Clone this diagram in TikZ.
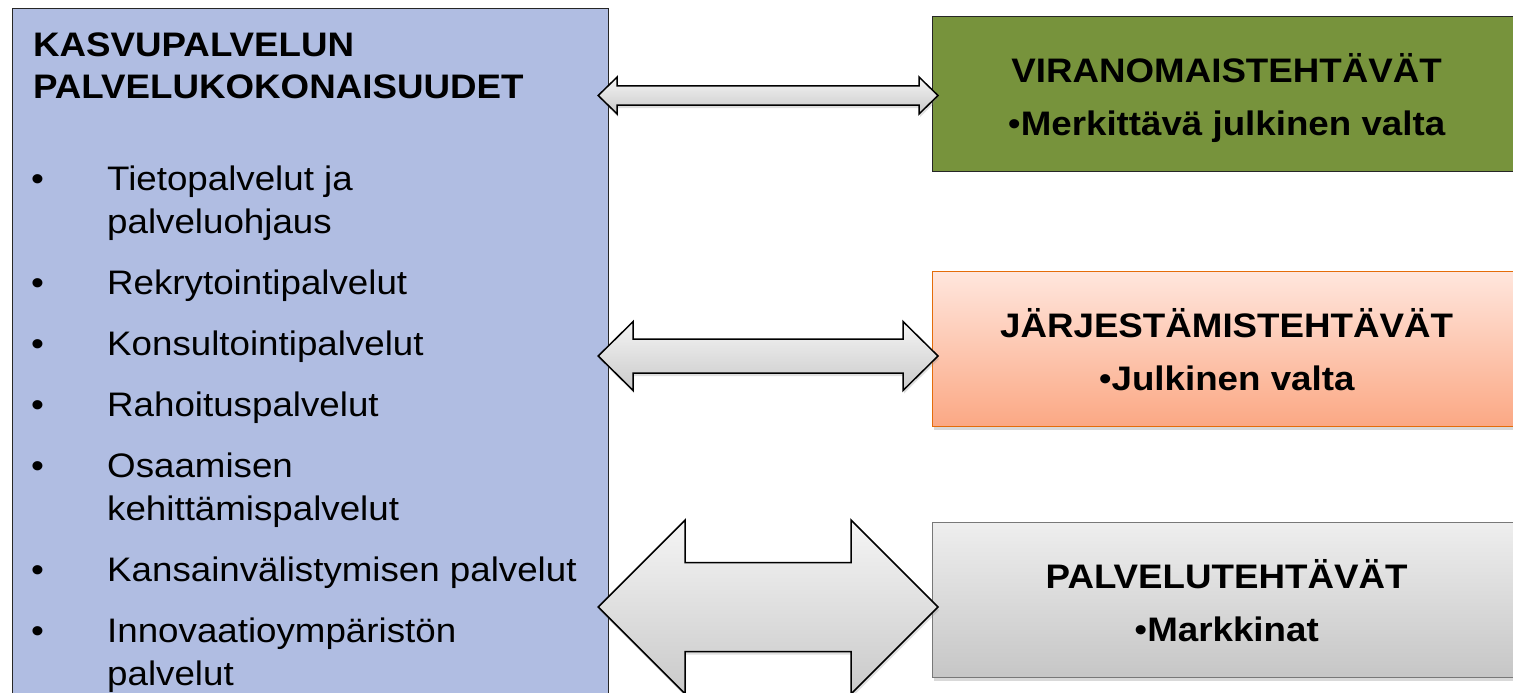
\documentclass[tikz,border=0pt]{standalone}
\usepackage{fontspec}
\setmainfont{Liberation Sans}[FakeStretch=1.08]
\usetikzlibrary{calc,shadows}

\definecolor{servblue}{RGB}{176,189,226}
\definecolor{viragreen}{RGB}{119,147,60}
\definecolor{jarjtop}{RGB}{255,230,221}
\definecolor{jarjbot}{RGB}{251,168,132}
\definecolor{jarjline}{RGB}{228,108,10}
\definecolor{paltop}{RGB}{238,238,238}
\definecolor{palbot}{RGB}{198,198,198}
\definecolor{palline}{RGB}{120,120,120}

\newcommand{\slidefont}{\fontsize{34}{43}\selectfont}

\tikzset{
  servicebox/.style={
    draw=black!85, line width=1.2pt, fill=servblue,
    minimum width=596pt, minimum height=720pt, anchor=north west
  },
  taskbox/.style={
    draw, line width=1.2pt,
    minimum width=588pt, minimum height=155pt, anchor=north west
  },
  virabox/.style={taskbox, draw=black!85, fill=viragreen},
  jarjbox/.style={taskbox, draw=jarjline, top color=jarjtop, bottom color=jarjbot,
    drop shadow={shadow xshift=1pt, shadow yshift=-3pt, opacity=0.3}},
  palbox/.style={taskbox, draw=palline, top color=paltop, bottom color=palbot,
    drop shadow={shadow xshift=1pt, shadow yshift=-3pt, opacity=0.3}},
  tasktext/.style={font=\slidefont\bfseries, anchor=base, inner sep=0pt},
  headtext/.style={font=\slidefont\bfseries, anchor=base west, inner sep=0pt},
  itemtext/.style={font=\slidefont, anchor=base west, inner sep=0pt},
  fatarrow/.style={
    draw=black, line width=1.5pt, line join=miter,
    top color=gray!8, bottom color=gray!42,
    drop shadow={shadow xshift=1pt, shadow yshift=-3pt, opacity=0.25}
  }
}

% double arrow: #1 left tip, #2 right tip, #3 head length, #4 head half width, #5 shaft half width
\newcommand{\twowayarrow}[5]{%
  \path[fatarrow] (#1) -- ++(#3,-#4) -- ++(0,#4-#5) -- ($(#2)+(-#3,-#5)$)
    -- ++(0,#5-#4) -- (#2) -- ++(-#3,#4) -- ++(0,#5-#4)
    -- ($(#1)+(#3,#5)$) -- ++(0,#4-#5) -- cycle;
}

\begin{document}
\begin{tikzpicture}[x=1pt,y=-1pt]
\useasboundingbox (0,0) rectangle (1513,693);

% service areas
\node[servicebox] (lbox) at (12,8) {};
\node[headtext] (head1) at (33,57) {KASVUPALVELUN};
\node[headtext] (head2) at (33,99) {PALVELUKOKONAISUUDET};

\foreach \y/\txt/\b in {190/{Tietopalvelut ja}/1, 233/palveluohjaus/0,
    294/Rekrytointipalvelut/1, 355/Konsultointipalvelut/1,
    416/Rahoituspalvelut/1, 477/Osaamisen/1, 520/kehittämispalvelut/0,
    581/{Kansainvälistymisen palvelut}/1, 642/Innovaatioympäristön/1,
    685/palvelut/0}{
  \node[itemtext] (item\y) at (107,\y) {\txt};
  \ifnum\b=1 \node[itemtext] (dot\y) at (31,\y) {•}; \fi
}

% tasks
\node[virabox] (vira) at (932,16) {};
\node[jarjbox] (jarj) at (932,271) {};
\node[palbox] (pal) at (932,522) {};

\node[tasktext] (vira1) at ([yshift=12pt]vira.center) {VIRANOMAISTEHTÄVÄT};
\node[tasktext] (vira2) at ([yshift=-41pt]vira.center) {\textmd{•}Merkittävä julkinen valta};
\node[tasktext] (jarj1) at ([yshift=12pt]jarj.center) {JÄRJESTÄMISTEHTÄVÄT};
\node[tasktext] (jarj2) at ([yshift=-41pt]jarj.center) {\textmd{•}Julkinen valta};
\node[tasktext] (pal1) at ([yshift=12pt]pal.center) {PALVELUTEHTÄVÄT};
\node[tasktext] (pal2) at ([yshift=-41pt]pal.center) {\textmd{•}Markkinat};

% arrows
\coordinate (a1l) at ($(lbox.east |- 0,95.5)+(-11,0)$);
\coordinate (a1r) at ($(vira.west |- 0,95.5)+(6,0)$);
\coordinate (a2l) at ($(lbox.east |- 0,356)+(-11,0)$);
\coordinate (a2r) at ($(jarj.west |- 0,356)+(6,0)$);
\coordinate (a3l) at ($(lbox.east |- 0,607)+(-11,0)$);
\coordinate (a3r) at ($(pal.west |- 0,607)+(6,0)$);

\twowayarrow{a1l}{a1r}{19}{18.5}{9.5}
\twowayarrow{a2l}{a2r}{35}{34.5}{17}
\twowayarrow{a3l}{a3r}{87}{87}{44.5}
\end{tikzpicture}
\end{document}
